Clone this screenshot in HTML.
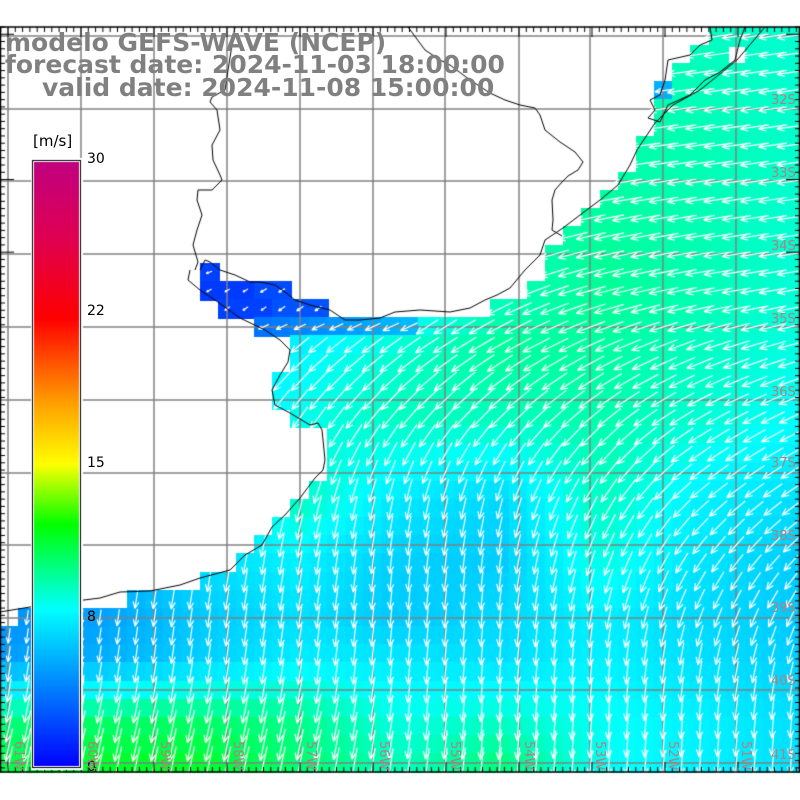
<!DOCTYPE html>
<html><head><meta charset="utf-8">
<style>
html,body{margin:0;padding:0;background:#fff;}
#w{position:relative;width:800px;height:800px;overflow:hidden;background:#fff;}
canvas{position:absolute;left:0;top:0;}
.t{position:absolute;font-family:"DejaVu Sans","Liberation Sans",sans-serif;font-weight:bold;color:#808080;font-size:25px;white-space:nowrap;line-height:25px;}
.cb{position:absolute;font-family:"DejaVu Sans","Liberation Sans",sans-serif;font-size:14px;color:#000;white-space:nowrap;line-height:14px;}
.lat{position:absolute;font-family:"DejaVu Sans","Liberation Sans",sans-serif;font-size:13px;color:#b08080;line-height:13px;}
.lon{position:absolute;font-family:"DejaVu Sans","Liberation Sans",sans-serif;font-size:13px;color:#b08080;line-height:13px;transform:rotate(90deg);transform-origin:0 0;}
</style></head><body><div id="w">
<canvas id="c" width="800" height="800"></canvas>
<div class="t" style="left:5px;top:30px">modelo GEFS-WAVE (NCEP)</div>
<div class="t" style="left:5px;top:52px">forecast date: 2024-11-03 18:00:00</div>
<div class="t" style="left:42px;top:75px">valid date: 2024-11-08 15:00:00</div>
<div class="cb" style="left:33px;top:134px;font-size:15px">[m/s]</div>
<div class="cb" style="left:87px;top:152px">30</div>
<div class="cb" style="left:87px;top:304px">22</div>
<div class="cb" style="left:87px;top:456px">15</div>
<div class="cb" style="left:87px;top:610px">8</div>
<div class="cb" style="left:87px;top:760px">0</div>
<div class="lat" style="left:771px;top:94px">32S</div>
<div class="lat" style="left:771px;top:167px">33S</div>
<div class="lat" style="left:771px;top:240px">34S</div>
<div class="lat" style="left:771px;top:313px">35S</div>
<div class="lat" style="left:771px;top:386px">36S</div>
<div class="lat" style="left:771px;top:457px">37S</div>
<div class="lat" style="left:771px;top:530px">38S</div>
<div class="lat" style="left:771px;top:602px">39S</div>
<div class="lat" style="left:771px;top:675px">40S</div>
<div class="lat" style="left:771px;top:749px">41S</div>
<div class="lon" style="left:25px;top:741px">61W</div>
<div class="lon" style="left:98px;top:741px">60W</div>
<div class="lon" style="left:171px;top:741px">59W</div>
<div class="lon" style="left:244px;top:741px">58W</div>
<div class="lon" style="left:317px;top:741px">57W</div>
<div class="lon" style="left:390px;top:741px">56W</div>
<div class="lon" style="left:461px;top:741px">55W</div>
<div class="lon" style="left:535px;top:741px">54W</div>
<div class="lon" style="left:606px;top:741px">53W</div>
<div class="lon" style="left:679px;top:741px">52W</div>
<div class="lon" style="left:752px;top:741px">51W</div>
</div>
<script>
const c=document.getElementById('c'),g=c.getContext('2d');
const X0=0,Y0=27,CW=800/44,CH=745/41;
const XS=[0,100,200,300,400,500,600,700,800];
const YS=[27,150,300,350,420,500,560,620,660,720,772];
const S=[
[9.2,9.2,9.2,9.2,9.2,9.2,9.2,9,8.7],
[9.2,9.2,9.2,9.2,9.2,9.3,9.4,9.2,8.8],
[5,5,5,5.5,7,9,9.7,9.2,8.6],
[6,6,6.5,7.8,8.8,9.6,9.5,9,8.4],
[7,7,7.5,8.3,9,9,9.3,8.7,8],
[7,7,7.5,9,7.3,6.8,9,7.6,7],
[6,6,7,7.6,6.5,6.4,8.5,7.2,6.4],
[4.5,5,6.3,7,6.3,6.8,7.5,6.8,6.3],
[5,5.5,6.5,7.5,7.3,7,7.6,7,6.5],
[10,10.3,10.3,9.8,8.4,8.8,8.2,7.6,7],
[11,11.5,11.5,10.3,9.2,10.2,8.2,7.6,7]];
const T=[
[82,82,82,82,82,82,82,82,82],
[82,82,82,82,82,82,82,82,82],
[50,50,50,50,55,65,75,80,80],
[50,50,50,50,55,60,65,70,75],
[35,35,35,35,40,45,50,60,65],
[15,15,15,15,12,15,30,50,55],
[10,10,10,10,6,8,20,35,45],
[8,8,8,8,5,5,10,20,25],
[8,8,8,8,5,5,5,10,15],
[12,12,12,12,8,5,5,5,5],
[12,12,12,12,8,5,5,5,5]];
function interp(A,x,y){
 let i=0;while(i<XS.length-2&&x>XS[i+1])i++;
 let j=0;while(j<YS.length-2&&y>YS[j+1])j++;
 let fx=Math.max(0,Math.min(1,(x-XS[i])/(XS[i+1]-XS[i])));
 let fy=Math.max(0,Math.min(1,(y-YS[j])/(YS[j+1]-YS[j])));
 return A[j][i]*(1-fx)*(1-fy)+A[j][i+1]*fx*(1-fy)+A[j+1][i]*(1-fx)*fy+A[j+1][i+1]*fx*fy;
}
const CM=[[0,0,0,255],[4,0,128,255],[8,0,255,255],[10,0,255,128],[12,0,255,0],[15,255,255,0],[18,255,160,0],[22,255,0,0],[26,224,0,80],[30,192,0,128]];
function col(s){
 for(let k=0;k<CM.length-1;k++){if(s<=CM[k+1][0]){let a=CM[k],b=CM[k+1],f=(s-a[0])/(b[0]-a[0]);if(f<0)f=0;
 return 'rgb('+Math.round(a[1]+(b[1]-a[1])*f)+','+Math.round(a[2]+(b[2]-a[2])*f)+','+Math.round(a[3]+(b[3]-a[3])*f)+')';}}
 return 'rgb(192,0,128)';
}
const L=[708,690,672,655,655,655,636,636,618,600,581,563,545,545,527,491,255,291,291,273,273,291,327,327,327,309,291,273,255,236,200,127,18,0,0,0,0,0,0,0,0];
const cells=[];
for(let r=0;r<41;r++){
 for(let k=0;k<44;k++){
  let x=k*CW,y=Y0+r*CH,cx=x+CW/2,cy=y+CH/2;
  let sea=cx>L[r];
  let s=interp(S,cx,cy),th=interp(T,cx,cy);
  if(r==13&&cx>200&&cx<218){sea=true;s=2;th=70;}
  if(r==14&&cx>200&&cx<291){sea=true;s=1.8+(cx>255?0.5:0);th=60;}
  if(r==15&&cx>218&&cx<327){sea=true;s=2+(cx>270?0.6:0);th=55;}
  if(r==16&&cx<420){s=3.5+(cx-255)/165*2.5;th=65;}
  if(r==3&&cx>655&&cx<672){s=5.5;}
  if(r==1&&cx>727&&cx<745)sea=false;
  if(!sea)continue;
  cells.push([x,y,cx,cy,s,th]);
  g.fillStyle=col(s);
  g.fillRect(Math.floor(x),Math.floor(y),Math.ceil(CW)+1,Math.ceil(CH)+1);
 }
}
g.strokeStyle='#808080';g.lineWidth=1.5;
const GX=[8,81,154,227,300,373,445,519,590,663,736];
const GY=[36,109,181,254,327,400,473,545,618,690,763];
GX.forEach(x=>{g.beginPath();g.moveTo(x,27);g.lineTo(x,772);g.stroke();});
GY.forEach(y=>{g.beginPath();g.moveTo(0,y);g.lineTo(800,y);g.stroke();});
g.strokeStyle='#fff';g.lineWidth=1.2;
cells.forEach(([x,y,cx,cy,s,th])=>{
 let a=th*Math.PI/180,dx=-Math.sin(a),dy=Math.cos(a),len=Math.min(34,3.2*s);
 let tx=cx+dx*len/2,ty=cy+dy*len/2,sx=cx-dx*len/2,sy=cy-dy*len/2;
 g.beginPath();g.moveTo(sx,sy);g.lineTo(tx,ty);
 let h=Math.min(8,len*0.4);
 for(const sg of [0.4,-0.4]){let ca=Math.cos(sg),sa=Math.sin(sg);
  let bx=-(dx*ca-dy*sa),by=-(dx*sa+dy*ca);g.moveTo(tx,ty);g.lineTo(tx+bx*h,ty+by*h);}
 g.stroke();
});
g.strokeStyle='#000';g.lineWidth=1;
function pl(p){g.beginPath();g.moveTo(p[0],p[1]);for(let i=2;i<p.length;i+=2)g.lineTo(p[i],p[i+1]);g.stroke();}
pl([765,27,737,60,700,90,673,105,655,123,637,150,630,165,618,185,600,200,580,215,563,228,545,240,540,255,525,270,510,288,497,295,485,300,470,308,450,312,420,310,395,312,380,318,360,320,345,320,330,310,310,305,295,300,285,292,275,285,260,282,250,282,235,275,220,270,210,262,205,260,200,270]);
pl([190,270,188,280,200,290,215,300,240,318,265,330,280,340,290,350,288,362,280,375,272,390,275,405,290,413,310,425,318,423,322,430,325,460,323,470,315,478,300,498,285,515,272,527,262,545,245,555,230,570,200,578,180,585,150,591,120,592,100,598,60,603,30,607,0,612]);
pl([235,27,232,45,228,70,225,90,212,97,210,102,217,110,220,130,212,145,213,160,220,175,222,180,212,190,198,190,197,200,202,215,197,230,193,245,198,262,195,270]);
pl([408,27,425,50,440,60,450,65,470,80,490,93,505,100,520,105,535,108,540,115,545,130,560,142,575,152,583,162,578,170,568,176,562,182,555,190,552,200,553,220,552,230,562,236]);
pl([710,27,712,40,700,45,690,55,668,60,665,80,660,95,650,100,655,110,648,118,660,122,668,105,690,95,705,80,720,72,735,60,740,40,745,27]);
g.strokeStyle='#000';g.lineWidth=1.5;
g.strokeRect(0.5,27,799,745);
g.lineWidth=1;
const dd=73/10;
for(let i=0;;i++){let x=8+(i-1)*dd; if(x>800)break; if(x<0)continue;
 let mj=Math.abs(((x-8)/73)-Math.round((x-8)/73))<0.02;let l=mj?10:5;
 g.beginPath();g.moveTo(x,27);g.lineTo(x,27+l);g.moveTo(x,772);g.lineTo(x,772-l);g.stroke();}
for(let i=0;;i++){let y=27+i*dd*0.995; if(y>772)break;
 let mj=GY.some(v=>Math.abs(v-y)<2);let l=mj?14:5;
 g.beginPath();g.moveTo(0,y);g.lineTo(l,y);g.moveTo(800,y);g.lineTo(800-l,y);g.stroke();}
g.fillStyle='#fff';g.fillRect(31,158,52,612);
const gr=g.createLinearGradient(0,161,0,767);
[[30,0],[26,0.13],[22,0.26],[18,0.4],[15,0.5],[12,0.6],[10,0.67],[8,0.74],[4,0.87],[0,1]].forEach(([s,p])=>gr.addColorStop(p,col(s)));
g.fillStyle=gr;g.fillRect(34,162,45,604);
g.strokeStyle='#000';g.lineWidth=1;g.strokeRect(32.5,160.5,48,607);
</script>
</body></html>
